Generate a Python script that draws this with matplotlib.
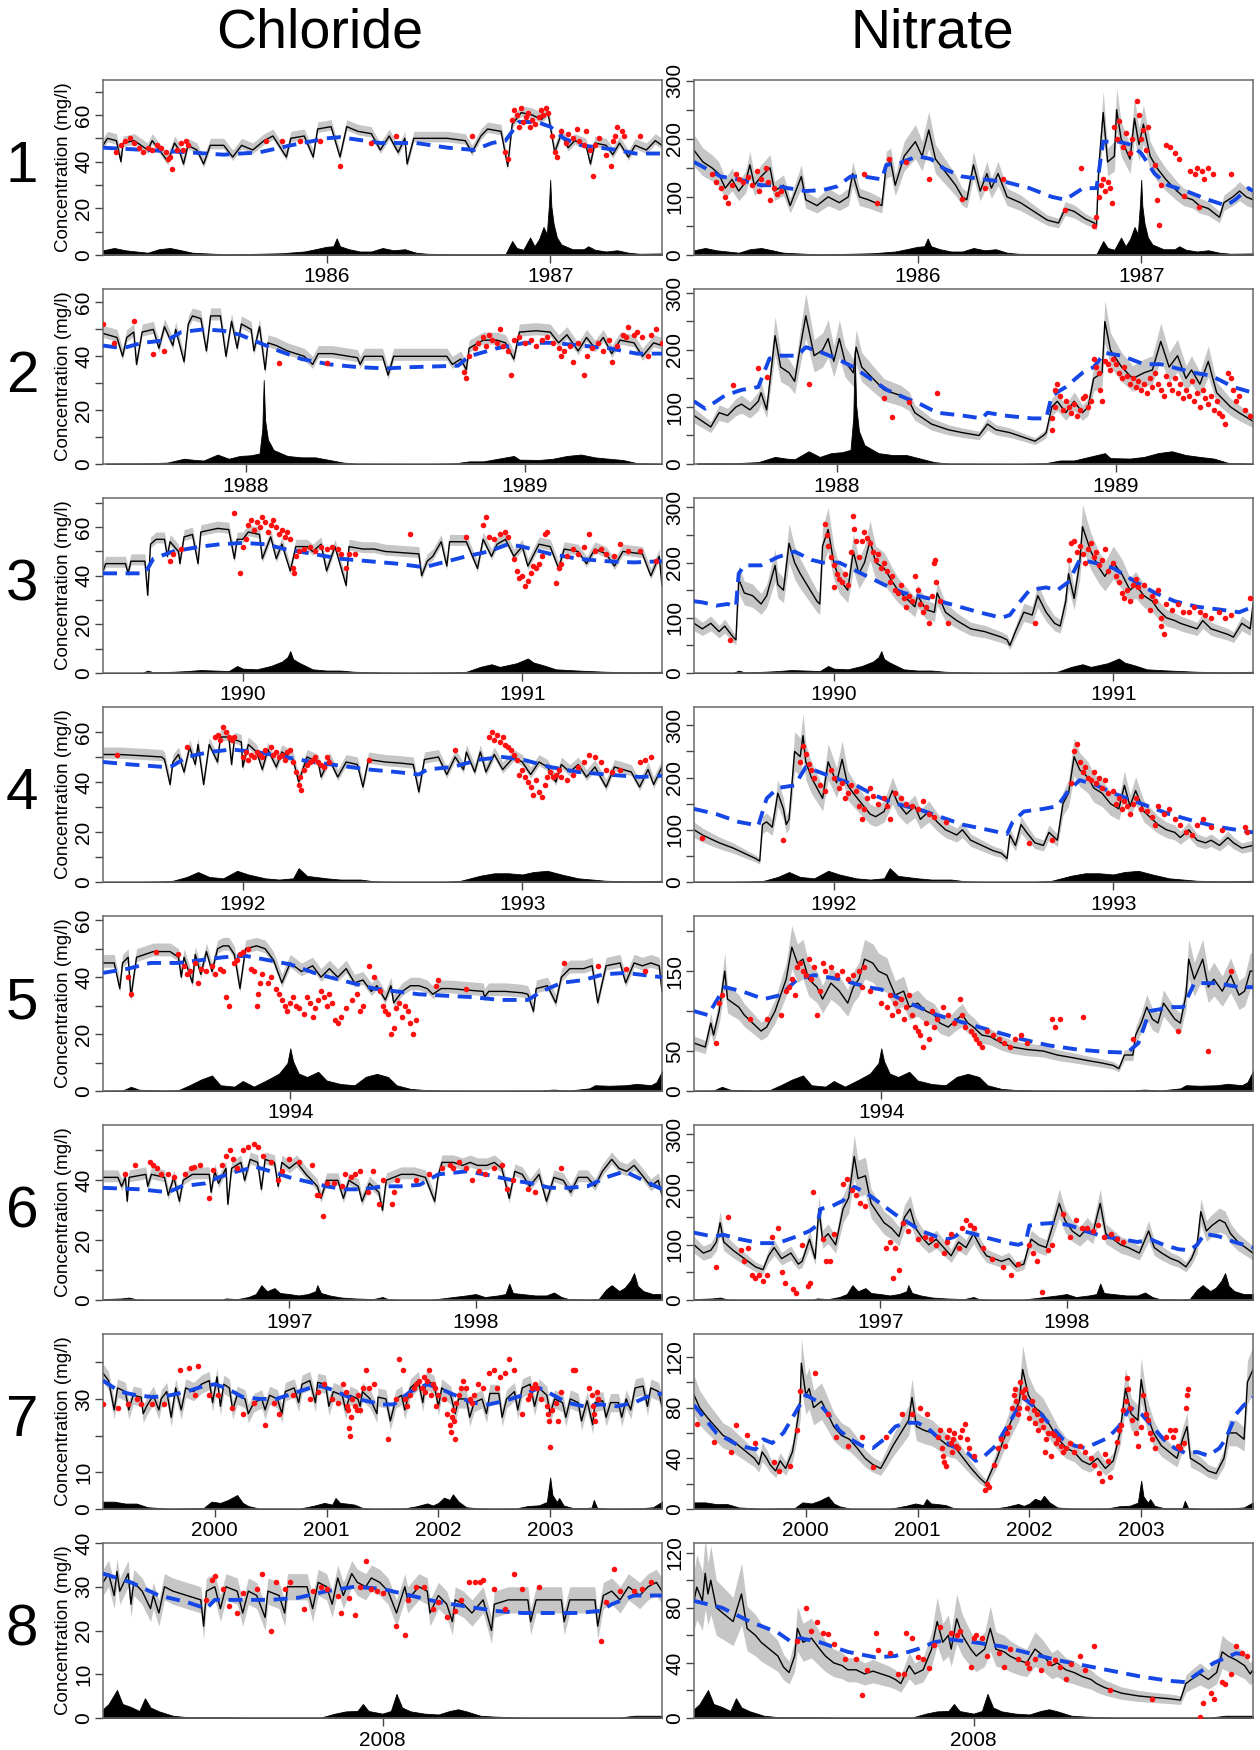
import numpy as np
import matplotlib
matplotlib.use("Agg")
import matplotlib.pyplot as plt

plt.rcParams['font.family'] = ['Liberation Sans', 'DejaVu Sans']

# ---------------- shared per-row axis data ----------------
row_xlim = [(1985.0, 1987.5), (1987.49, 1989.49), (1989.5, 1991.5), (1991.5, 1993.5),
            (1993.33, 1995.33), (1996.0, 1999.0), (1999.0, 2004.0), (2007.0, 2009.0)]
row_years = [[1986, 1987], [1988, 1989], [1990, 1991], [1992, 1993], [1994],
             [1997, 1998], [2000, 2001, 2002, 2003], [2008]]
row_numbers = ['1', '2', '3', '4', '5', '6', '7', '8']

cl_ytop = [75, 65, 72, 70, 61.5, 58.5, 47.7, 40]
cl_yticks = [[0, 10, 20, 30, 40, 50, 60, 70], [0, 10, 20, 30, 40, 50, 60], [0, 10, 20, 30, 40, 50, 60, 70],
             [0, 10, 20, 30, 40, 50, 60], [0, 10, 20, 30, 40, 50, 60], [0, 10, 20, 30, 40, 50],
             [0, 10, 20, 30, 40], [0, 10, 20, 30, 40]]
cl_ylabeled = [[0, 20, 40, 60], [0, 20, 40, 60], [0, 20, 40, 60], [0, 20, 40, 60], [0, 20, 40, 60],
               [0, 20, 40], [0, 10, 30], [0, 10, 20, 30, 40]]
no_ytop = [301, 307, 317, 335, 219, 317, 138, 127]
no_yticks = [[0, 50, 100, 150, 200, 250, 300], [0, 50, 100, 150, 200, 250, 300],
             [0, 50, 100, 150, 200, 250, 300], [0, 50, 100, 150, 200, 250, 300],
             [0, 50, 100, 150, 200], [0, 50, 100, 150, 200, 250, 300],
             [0, 20, 40, 60, 80, 100, 120], [0, 20, 40, 60, 80, 100, 120]]
no_ylabeled = [[0, 100, 200, 300]] * 4 + [[0, 50, 150], [0, 100, 200, 300], [0, 40, 80, 120], [0, 40, 80, 120]]

# band around the simulated line: chloride (below, above) in mg/l, nitrate relative half width
cl_band_below = [1.5, 1.5, 1.5, 1.5, 1.5, 1.5, 2.5, 3.0]
cl_band_above = [3.0, 3.0, 3.0, 3.0, 3.0, 2.5, 2.5, 3.0]
no_band_rel = [0.15, 0.15, 0.15, 0.15, 0.15, 0.15, 0.17, 0.25]

# ---------------- discharge (time, percent of panel height) ----------------
q1 = [(1985.00, 2.7), (1985.05, 4), (1985.10, 2.7), (1985.15, 2), (1985.20, 1.3), (1985.25, 3.3), (1985.30, 4),
      (1985.35, 2.7), (1985.40, 1.3), (1985.45, 1), (1985.50, 0.7), (1985.55, 0.4), (1985.70, 0.7), (1985.80, 1),
      (1985.90, 2), (1985.95, 3.3), (1986.00, 4.7), (1986.03, 5), (1986.045, 9.5), (1986.06, 5), (1986.10, 3.3),
      (1986.15, 2), (1986.20, 2), (1986.25, 4), (1986.30, 2.7), (1986.35, 3.3), (1986.40, 1.3), (1986.45, 0.7),
      (1986.60, 0.4), (1986.80, 0.5), (1986.81, 3), (1986.83, 8), (1986.85, 4), (1986.88, 3), (1986.91, 10),
      (1986.93, 5), (1986.95, 9), (1986.97, 16), (1986.985, 12), (1986.995, 30), (1987.0, 43), (1987.005, 28),
      (1987.015, 18), (1987.03, 10), (1987.05, 6), (1987.10, 3.3), (1987.15, 3.3), (1987.17, 5), (1987.20, 3),
      (1987.25, 2), (1987.30, 2.7), (1987.35, 1.3), (1987.40, 0.7), (1987.50, 0.9)]
q2 = [(1987.50, 0.3), (1987.65, 0.4), (1987.72, 0.8), (1987.78, 3), (1987.82, 2.3), (1987.85, 2), (1987.90, 5.4),
      (1987.94, 3), (1987.98, 4.6), (1988.02, 5), (1988.05, 6), (1988.06, 20), (1988.065, 48), (1988.07, 25),
      (1988.08, 14), (1988.10, 8), (1988.15, 4.6), (1988.20, 3.8), (1988.25, 3.8), (1988.30, 2.3), (1988.35, 0.8),
      (1988.40, 0.2), (1988.65, 0), (1988.75, 0.4), (1988.80, 1.5), (1988.85, 1.5), (1988.96, 4.6), (1988.98, 2.5),
      (1989.05, 2.3), (1989.10, 3), (1989.15, 4.6), (1989.20, 5.4), (1989.25, 3.8), (1989.30, 3), (1989.35, 2.3),
      (1989.40, 0.5), (1989.49, 0.2)]
q3 = [(1989.50, 0), (1989.64, 0), (1989.66, 1.4), (1989.68, 0.4), (1989.75, 0.7), (1989.80, 1.1), (1989.85, 1.7),
      (1989.90, 1.4), (1989.95, 1.1), (1989.98, 4), (1990.00, 2.5), (1990.05, 2.1), (1990.10, 4), (1990.14, 6.5),
      (1990.16, 9), (1990.17, 12.5), (1990.18, 8), (1990.20, 6), (1990.25, 2.1), (1990.30, 1.4), (1990.35, 1.4),
      (1990.40, 0.7), (1990.50, 0.3), (1990.60, 0.1), (1990.75, 0.4), (1990.80, 0.7), (1990.85, 3.5), (1990.89, 5),
      (1990.92, 3.5), (1990.98, 5.6), (1991.02, 8.3), (1991.04, 6), (1991.08, 4.2), (1991.12, 2.1), (1991.20, 1.4),
      (1991.30, 0.7), (1991.40, 0.4), (1991.50, 0.7)]
q4 = [(1991.50, 0), (1991.62, 0), (1991.70, 0.3), (1991.75, 0.7), (1991.80, 2.9), (1991.84, 5.7), (1991.88, 2.9),
      (1991.93, 2.1), (1991.98, 6.4), (1992.02, 4.3), (1992.08, 2.1), (1992.13, 1.4), (1992.18, 2.1), (1992.20, 7.9),
      (1992.23, 3.5), (1992.30, 2.1), (1992.35, 1.4), (1992.42, 1.4), (1992.47, 0.4), (1992.55, 0.1), (1992.72, 0.1),
      (1992.78, 0.7), (1992.85, 3.6), (1992.90, 5), (1992.95, 5), (1993.00, 4.3), (1993.04, 5.7), (1993.09, 6.4),
      (1993.14, 4.3), (1993.20, 2.1), (1993.25, 1.4), (1993.30, 0.7), (1993.40, 0.4), (1993.50, 0.7)]
q5 = [(1993.33, 0.2), (1993.40, 0.3), (1993.43, 2.4), (1993.46, 0.7), (1993.55, 0.3), (1993.60, 0.5), (1993.64, 3.3),
      (1993.68, 6.5), (1993.72, 8.9), (1993.75, 3.3), (1993.80, 2.5), (1993.83, 5.7), (1993.87, 2.5), (1993.92, 6.5),
      (1993.96, 10), (1993.99, 16), (1994.00, 24.4), (1994.01, 17), (1994.03, 10), (1994.06, 8), (1994.10, 11),
      (1994.13, 6), (1994.18, 4), (1994.23, 3.3), (1994.27, 8.1), (1994.31, 9.8), (1994.35, 8), (1994.38, 3.3),
      (1994.43, 1.2), (1994.48, 0.6), (1994.55, 0.3), (1994.70, 0.2), (1994.90, 0.3), (1994.94, 0.8), (1995.00, 0.3),
      (1995.07, 1.5), (1995.09, 3.3), (1995.14, 3), (1995.20, 3.3), (1995.24, 4.1), (1995.29, 3.3), (1995.31, 5),
      (1995.33, 11.4)]
q6 = [(1996.00, 0.5), (1996.10, 0.9), (1996.14, 1.4), (1996.18, 0.3), (1996.25, 0.2), (1996.64, 0.2), (1996.66, 0.9),
      (1996.72, 0.5), (1996.78, 1.7), (1996.82, 3.4), (1996.85, 8.5), (1996.88, 5), (1996.92, 6.8), (1996.95, 4),
      (1997.00, 3.4), (1997.05, 2.6), (1997.10, 3.4), (1997.14, 5), (1997.15, 8.5), (1997.17, 4), (1997.22, 2.5),
      (1997.28, 1.4), (1997.35, 0.9), (1997.45, 0.5), (1997.50, 1.7), (1997.53, 0.5), (1997.60, 0.2), (1997.76, 0.2),
      (1997.82, 0.9), (1997.88, 1.7), (1997.95, 2.6), (1998.00, 3.4), (1998.05, 1.7), (1998.12, 2.6), (1998.16, 3.4),
      (1998.18, 9.4), (1998.20, 4), (1998.25, 3.4), (1998.32, 2.6), (1998.38, 2.6), (1998.42, 4.3), (1998.46, 1.7),
      (1998.50, 0.5), (1998.60, 0.3), (1998.66, 0.5), (1998.70, 6), (1998.73, 8.5), (1998.77, 5.1), (1998.80, 7),
      (1998.83, 11), (1998.85, 15.4), (1998.87, 8), (1998.90, 5.1), (1998.95, 3.4), (1999.00, 3.4)]
q7 = [(1999.00, 4.2), (1999.10, 4.2), (1999.20, 3.1), (1999.30, 3.1), (1999.40, 1), (1999.50, 0.6), (1999.60, 0.2),
      (1999.90, 0.6), (1999.97, 4.2), (2000.05, 3.5), (2000.12, 5.2), (2000.20, 8), (2000.25, 3.5), (2000.30, 1.7),
      (2000.40, 0.2), (2000.75, 0.2), (2000.82, 1), (2000.90, 2.1), (2000.98, 3.5), (2001.05, 2.5), (2001.08, 6.3),
      (2001.12, 3.5), (2001.18, 3.1), (2001.25, 2.5), (2001.32, 0.6), (2001.40, 0.2), (2001.70, 0.4), (2001.80, 1.5),
      (2001.90, 3.2), (2001.95, 2), (2002.00, 3.5), (2002.05, 6.5), (2002.10, 5.2), (2002.13, 8.4), (2002.18, 4.2),
      (2002.25, 1), (2002.35, 0.4), (2002.50, 0.2), (2002.70, 0.4), (2002.80, 1.7), (2002.90, 2.1), (2002.97, 4),
      (2003.00, 18), (2003.02, 8), (2003.06, 4), (2003.08, 6.3), (2003.12, 2), (2003.20, 0.6), (2003.30, 0.5),
      (2003.37, 0.8), (2003.39, 5.2), (2003.42, 0.6), (2003.55, 0.2), (2003.80, 0.4), (2003.92, 1), (2004.00, 4.2)]
q8 = [(2007.00, 5), (2007.02, 8), (2007.05, 16), (2007.07, 8), (2007.10, 6.3), (2007.13, 4), (2007.15, 11.3),
      (2007.17, 6), (2007.20, 3.8), (2007.25, 1.3), (2007.30, 0.5), (2007.45, 0.5), (2007.50, 0.3), (2007.78, 0.3),
      (2007.83, 2.5), (2007.87, 3.8), (2007.91, 4), (2007.93, 8), (2007.95, 4), (2008.00, 2.5), (2008.03, 4),
      (2008.05, 13.8), (2008.07, 6), (2008.10, 3.8), (2008.15, 2.5), (2008.20, 2), (2008.24, 4), (2008.27, 5),
      (2008.30, 3.8), (2008.35, 1.3), (2008.40, 0.8), (2008.45, 0.5), (2008.50, 0.3), (2008.85, 0.3), (2008.90, 1.3),
      (2008.95, 1.3), (2009.00, 1.3)]
q_rows = [q1, q2, q3, q4, q5, q6, q7, q8]
q_gain_cl = [1, 1, 1, 1, 1, 1, 1, 1]
q_gain_no = [1, 1.35, 1, 1, 1, 1, 0.9, 1]

# ---------------- Chloride series ----------------
cl1_line = [(1985.00, 47), (1985.02, 50), (1985.06, 49), (1985.08, 40), (1985.09, 48), (1985.14, 49), (1985.20, 45),
            (1985.22, 49), (1985.26, 44), (1985.29, 40), (1985.32, 48), (1985.34, 45), (1985.36, 39), (1985.38, 47),
            (1985.42, 45), (1985.45, 39), (1985.48, 47), (1985.54, 47), (1985.58, 42), (1985.62, 47), (1985.67, 45),
            (1985.72, 49), (1985.76, 51), (1985.82, 42), (1985.84, 50), (1985.90, 51), (1985.94, 42), (1985.96, 54),
            (1986.02, 55), (1986.06, 42), (1986.09, 55), (1986.14, 53), (1986.20, 52), (1986.24, 45), (1986.28, 51),
            (1986.32, 44), (1986.35, 50), (1986.36, 39), (1986.39, 50), (1986.46, 50), (1986.54, 50), (1986.62, 49),
            (1986.65, 44), (1986.69, 51), (1986.72, 54), (1986.78, 53), (1986.81, 38), (1986.83, 56), (1986.87, 61),
            (1986.92, 60), (1986.96, 58), (1986.99, 61), (1987.02, 44), (1987.05, 52), (1987.08, 46), (1987.11, 49),
            (1987.16, 47), (1987.18, 39), (1987.20, 48), (1987.25, 47), (1987.28, 43), (1987.31, 48), (1987.35, 42),
            (1987.38, 47), (1987.43, 45), (1987.47, 49), (1987.50, 47)]
cl1_trend = [(1985.0, 46), (1985.38, 44), (1985.54, 43), (1985.70, 44), (1985.84, 47), (1986.0, 50), (1986.06, 50.5),
             (1986.24, 48), (1986.40, 48), (1986.54, 46), (1986.66, 45), (1986.74, 48), (1986.80, 49), (1986.86, 57),
             (1986.94, 57), (1987.0, 55), (1987.06, 50), (1987.14, 47), (1987.30, 45), (1987.38, 43.5), (1987.5, 43.5)]
cl1_obs = [(1985.06, 44), (1985.08, 47), (1985.10, 49), (1985.12, 50), (1985.14, 48), (1985.16, 46), (1985.18, 44),
           (1985.20, 46), (1985.22, 45), (1985.24, 47), (1985.26, 46), (1985.28, 44), (1985.29, 41), (1985.30, 42),
           (1985.31, 37), (1985.33, 45), (1985.35, 48), (1985.36, 45), (1985.37, 49), (1985.38, 47), (1985.73, 49),
           (1985.80, 49), (1985.88, 49), (1985.97, 49), (1986.06, 38), (1986.20, 48), (1986.31, 51), (1986.65, 51),
           (1986.80, 44), (1986.81, 41), (1986.83, 58), (1986.84, 62), (1986.85, 60), (1986.86, 55), (1986.87, 63),
           (1986.88, 57), (1986.89, 59), (1986.90, 61), (1986.91, 55), (1986.92, 58), (1986.93, 56), (1986.95, 59),
           (1986.96, 62), (1986.97, 60), (1986.98, 63), (1986.99, 61), (1987.01, 51), (1987.02, 44), (1987.03, 42),
           (1987.05, 53), (1987.07, 48), (1987.08, 52), (1987.10, 50), (1987.12, 54), (1987.13, 49), (1987.15, 47),
           (1987.16, 53), (1987.18, 45), (1987.19, 34), (1987.20, 47), (1987.22, 50), (1987.25, 43), (1987.27, 38),
           (1987.28, 49), (1987.29, 51), (1987.30, 55), (1987.32, 53), (1987.33, 51), (1987.40, 51)]

cl2_line = [(1987.49, 48.5), (1987.54, 47), (1987.56, 40), (1987.575, 47), (1987.60, 49), (1987.61, 37), (1987.63, 49),
            (1987.67, 50), (1987.69, 43), (1987.71, 51), (1987.74, 44), (1987.75, 50), (1987.78, 38), (1987.795, 52),
            (1987.81, 55), (1987.84, 54), (1987.86, 42), (1987.875, 55), (1987.91, 55), (1987.93, 40), (1987.95, 53),
            (1987.97, 43), (1987.985, 52), (1988.02, 50), (1988.03, 42), (1988.05, 51), (1988.07, 35), (1988.08, 45),
            (1988.11, 44), (1988.15, 42), (1988.18, 41), (1988.21, 40), (1988.24, 37), (1988.26, 41), (1988.31, 41),
            (1988.37, 40), (1988.40, 39.5), (1988.41, 37), (1988.425, 40), (1988.49, 40), (1988.51, 33), (1988.53, 40),
            (1988.64, 40), (1988.72, 40), (1988.74, 37), (1988.77, 39), (1988.79, 35), (1988.80, 43), (1988.85, 46),
            (1988.90, 46), (1988.93, 45), (1988.96, 39), (1988.98, 49), (1989.04, 49.5), (1989.09, 49), (1989.12, 45),
            (1989.15, 48), (1989.19, 42), (1989.22, 47), (1989.25, 43), (1989.28, 47), (1989.31, 41), (1989.34, 46),
            (1989.39, 45), (1989.42, 40), (1989.46, 45), (1989.49, 44)]
cl2_trend = [(1987.49, 44), (1987.56, 43), (1987.63, 45), (1987.72, 46), (1987.77, 49), (1987.85, 50), (1987.92, 49.5),
             (1987.98, 48), (1988.05, 45), (1988.12, 42), (1988.2, 39), (1988.3, 37), (1988.4, 36), (1988.5, 35.5),
             (1988.6, 36), (1988.76, 36.5), (1988.8, 40), (1988.9, 43), (1989.0, 45), (1989.1, 45), (1989.2, 44),
             (1989.3, 43), (1989.4, 41), (1989.49, 41)]
cl2_obs = [(1987.49, 52), (1987.53, 45), (1987.60, 53), (1987.67, 41), (1987.71, 42), (1988.12, 37.5), (1988.29, 37.5),
           (1988.78, 34), (1988.79, 32), (1988.80, 40), (1988.82, 43), (1988.83, 45), (1988.85, 47), (1988.86, 44),
           (1988.87, 48), (1988.88, 46), (1988.90, 45), (1988.91, 50), (1988.92, 44), (1988.94, 42), (1988.95, 33),
           (1988.96, 46), (1988.98, 47), (1989.00, 45), (1989.02, 46), (1989.04, 44), (1989.06, 46), (1989.08, 47),
           (1989.10, 45), (1989.12, 43), (1989.13, 40), (1989.14, 42), (1989.16, 44), (1989.17, 38), (1989.19, 45),
           (1989.21, 33), (1989.22, 40), (1989.24, 43), (1989.26, 45), (1989.28, 42), (1989.30, 46), (1989.31, 38),
           (1989.33, 44), (1989.35, 48), (1989.36, 47), (1989.37, 51), (1989.39, 48), (1989.40, 49), (1989.42, 47),
           (1989.44, 40), (1989.45, 48), (1989.47, 50), (1989.49, 45)]

cl3_line = [(1989.50, 42), (1989.51, 45), (1989.58, 45), (1989.59, 41), (1989.60, 46), (1989.65, 46), (1989.66, 32),
            (1989.67, 53), (1989.69, 55), (1989.72, 55), (1989.73, 48), (1989.74, 54), (1989.77, 50), (1989.775, 45),
            (1989.79, 56), (1989.82, 57), (1989.84, 45), (1989.85, 58), (1989.91, 59.5), (1989.95, 59), (1989.97, 47),
            (1989.98, 55), (1990.00, 55), (1990.02, 58), (1990.06, 57), (1990.07, 47), (1990.10, 56), (1990.12, 47),
            (1990.14, 53), (1990.17, 42), (1990.19, 52), (1990.23, 52), (1990.25, 50), (1990.28, 53), (1990.30, 42),
            (1990.33, 52), (1990.37, 36), (1990.38, 52), (1990.43, 51), (1990.47, 51), (1990.51, 50), (1990.57, 49.5),
            (1990.63, 49), (1990.64, 40), (1990.66, 46), (1990.68, 48), (1990.71, 54), (1990.73, 44), (1990.74, 54),
            (1990.80, 54), (1990.84, 43), (1990.86, 55), (1990.89, 48), (1990.91, 53), (1990.94, 55), (1990.97, 48),
            (1991.00, 52), (1991.02, 44), (1991.06, 53), (1991.10, 52), (1991.13, 43), (1991.15, 51), (1991.20, 50),
            (1991.23, 45), (1991.26, 51), (1991.30, 49), (1991.33, 44), (1991.36, 50), (1991.43, 49), (1991.46, 40),
            (1991.49, 48), (1991.50, 36)]
cl3_trend = [(1989.5, 41), (1989.65, 41), (1989.68, 47), (1989.75, 50), (1989.85, 52), (1989.92, 53), (1990.0, 53.5),
             (1990.08, 53), (1990.15, 51), (1990.25, 49), (1990.35, 47), (1990.45, 46), (1990.55, 45), (1990.65, 43.5),
             (1990.7, 45), (1990.8, 48), (1990.88, 50), (1990.95, 53), (1991.0, 52), (1991.1, 49), (1991.2, 47),
             (1991.3, 46), (1991.4, 45.5), (1991.5, 46)]
cl3_obs = [(1989.74, 46), (1989.75, 49), (1989.78, 51), (1989.97, 66), (1989.99, 41), (1990.0, 52), (1990.01, 55),
           (1990.02, 61), (1990.03, 63), (1990.04, 59), (1990.05, 62), (1990.06, 60), (1990.07, 64), (1990.08, 62),
           (1990.09, 58), (1990.10, 61), (1990.11, 63), (1990.12, 60), (1990.13, 57), (1990.14, 59), (1990.15, 56),
           (1990.16, 58), (1990.17, 55), (1990.18, 43), (1990.185, 41), (1990.19, 48), (1990.2, 50), (1990.22, 51),
           (1990.24, 52), (1990.26, 50), (1990.28, 52), (1990.30, 51), (1990.32, 52), (1990.34, 51), (1990.35, 49),
           (1990.37, 43), (1990.38, 49), (1990.40, 49), (1990.60, 57), (1990.80, 56), (1990.86, 61), (1990.87, 64),
           (1990.88, 56), (1990.9, 55), (1990.92, 57), (1990.94, 58), (1990.95, 56), (1990.97, 47), (1990.98, 42),
           (1990.99, 39), (1991.0, 40), (1991.01, 36), (1991.02, 38), (1991.03, 41), (1991.04, 44), (1991.05, 43),
           (1991.06, 45), (1991.07, 48), (1991.08, 57), (1991.09, 58), (1991.12, 37), (1991.13, 43), (1991.14, 45),
           (1991.16, 48), (1991.18, 51), (1991.20, 49), (1991.22, 52), (1991.24, 57), (1991.26, 50), (1991.28, 51),
           (1991.30, 49), (1991.33, 48), (1991.35, 53), (1991.38, 50), (1991.42, 50), (1991.48, 46)]

cl4_line = [(1991.50, 51), (1991.56, 51), (1991.64, 50.5), (1991.71, 50), (1991.72, 49), (1991.74, 39), (1991.75, 48),
            (1991.77, 51), (1991.79, 44), (1991.81, 54), (1991.83, 47), (1991.84, 55), (1991.86, 39), (1991.88, 55),
            (1991.91, 48), (1991.92, 58), (1991.95, 58), (1991.96, 47), (1991.97, 57), (1991.995, 56), (1992.00, 46),
            (1992.02, 55), (1992.05, 52), (1992.07, 45), (1992.09, 53), (1992.12, 46), (1992.14, 52), (1992.18, 49),
            (1992.20, 40), (1992.23, 50), (1992.27, 48), (1992.28, 42), (1992.31, 49), (1992.34, 42), (1992.37, 48),
            (1992.41, 47), (1992.43, 38), (1992.45, 49), (1992.51, 48), (1992.57, 47.5), (1992.61, 47), (1992.63, 36),
            (1992.65, 49), (1992.70, 50), (1992.73, 43), (1992.76, 50), (1992.79, 45), (1992.80, 52), (1992.83, 44),
            (1992.85, 52), (1992.87, 44), (1992.90, 51), (1992.93, 45), (1992.97, 50), (1993.00, 48), (1993.03, 43),
            (1993.06, 48), (1993.09, 46), (1993.12, 40), (1993.14, 47), (1993.17, 44), (1993.20, 47), (1993.23, 42),
            (1993.26, 46), (1993.30, 38), (1993.33, 46), (1993.39, 44), (1993.42, 38), (1993.45, 45), (1993.47, 39),
            (1993.50, 46)]
cl4_trend = [(1991.5, 48), (1991.6, 47), (1991.72, 46), (1991.75, 46.5), (1991.8, 50), (1991.88, 52), (1991.96, 53),
             (1992.05, 52), (1992.15, 50), (1992.25, 48), (1992.35, 46.5), (1992.45, 45), (1992.55, 44), (1992.63, 43),
             (1992.66, 45), (1992.75, 46), (1992.85, 49), (1992.93, 50), (1993.0, 49), (1993.1, 46), (1993.2, 44),
             (1993.3, 43), (1993.42, 42), (1993.5, 42.5)]
cl4_obs = [(1991.55, 51), (1991.80, 54), (1991.9, 58), (1991.91, 59), (1991.92, 57), (1991.93, 62), (1991.94, 60),
           (1991.95, 58), (1991.96, 57), (1991.97, 58), (1992.0, 50), (1992.01, 52), (1992.02, 49), (1992.03, 51),
           (1992.04, 50), (1992.05, 52), (1992.06, 51), (1992.07, 50), (1992.08, 53), (1992.1, 54), (1992.11, 51),
           (1992.12, 52), (1992.13, 50), (1992.14, 51), (1992.15, 49), (1992.16, 52), (1992.17, 53), (1992.18, 48),
           (1992.19, 44), (1992.20, 39), (1992.205, 42), (1992.21, 37), (1992.22, 45), (1992.23, 47), (1992.24, 48),
           (1992.25, 49), (1992.26, 50), (1992.27, 48), (1992.28, 47), (1992.29, 46), (1992.30, 50), (1992.31, 48),
           (1992.45, 49), (1992.76, 53), (1992.88, 58), (1992.89, 60), (1992.90, 57), (1992.91, 59), (1992.92, 56),
           (1992.93, 58), (1992.94, 55), (1992.95, 54), (1992.96, 53), (1992.97, 51), (1992.98, 49), (1992.99, 43),
           (1993.0, 45), (1993.01, 42), (1993.02, 40), (1993.03, 38), (1993.04, 35), (1993.05, 41), (1993.06, 36),
           (1993.07, 34), (1993.08, 39), (1993.09, 42), (1993.10, 44), (1993.11, 42), (1993.12, 43), (1993.13, 45),
           (1993.14, 42), (1993.16, 41), (1993.18, 43), (1993.20, 46), (1993.22, 48), (1993.24, 51), (1993.26, 50),
           (1993.28, 48), (1993.30, 45), (1993.32, 44), (1993.35, 45), (1993.42, 48), (1993.44, 49), (1993.46, 50)]

cl5_line = [(1993.33, 45), (1993.37, 45), (1993.39, 36), (1993.40, 45), (1993.42, 47), (1993.43, 33), (1993.45, 47),
            (1993.51, 49), (1993.57, 49), (1993.60, 47), (1993.61, 40), (1993.62, 47), (1993.65, 38), (1993.66, 48),
            (1993.68, 41), (1993.70, 49), (1993.72, 42), (1993.74, 50), (1993.76, 51), (1993.78, 51), (1993.80, 48),
            (1993.82, 36), (1993.84, 50), (1993.88, 51), (1993.91, 50), (1993.94, 46), (1993.97, 38), (1994.00, 45),
            (1994.04, 42), (1994.08, 44), (1994.11, 40), (1994.14, 43), (1994.17, 40), (1994.20, 43), (1994.23, 38),
            (1994.26, 39), (1994.29, 35), (1994.31, 37), (1994.34, 32), (1994.36, 37), (1994.37, 31), (1994.40, 35),
            (1994.43, 37), (1994.46, 37), (1994.49, 36), (1994.51, 34), (1994.54, 36), (1994.57, 36), (1994.63, 35.5),
            (1994.69, 35), (1994.695, 33), (1994.71, 35), (1994.77, 35), (1994.83, 34.5), (1994.85, 34), (1994.87, 28),
            (1994.88, 36), (1994.92, 37), (1994.95, 31), (1994.97, 40), (1995.00, 43), (1995.05, 43), (1995.08, 44),
            (1995.10, 31), (1995.13, 44), (1995.18, 45), (1995.20, 38), (1995.23, 45), (1995.26, 44), (1995.29, 45),
            (1995.32, 44), (1995.33, 35)]
cl5_trend = [(1993.33, 41.5), (1993.42, 43), (1993.5, 45), (1993.6, 45), (1993.68, 46), (1993.76, 47), (1993.84, 47.5),
             (1993.92, 46), (1994.0, 44.5), (1994.1, 41), (1994.2, 38.5), (1994.3, 36), (1994.38, 35), (1994.46, 34),
             (1994.55, 33.5), (1994.65, 33), (1994.75, 32), (1994.85, 32), (1994.9, 35), (1994.97, 38), (1995.05, 39),
             (1995.12, 41), (1995.2, 41.5), (1995.33, 40)]
cl5_obs = [(1993.42, 40), (1993.43, 34), (1993.52, 49), (1993.6, 48), (1993.62, 44), (1993.63, 41), (1993.64, 42),
           (1993.66, 45), (1993.67, 38), (1993.68, 43), (1993.7, 42), (1993.72, 44), (1993.73, 41), (1993.75, 43),
           (1993.76, 42), (1993.77, 33), (1993.78, 30), (1993.8, 45), (1993.81, 46), (1993.82, 48), (1993.83, 49),
           (1993.85, 50), (1993.86, 43), (1993.87, 42), (1993.88, 30), (1993.885, 34), (1993.89, 38), (1993.9, 41),
           (1993.92, 38), (1993.93, 40), (1993.95, 36), (1993.96, 34), (1993.97, 32), (1993.98, 30), (1993.99, 28),
           (1994.0, 31), (1994.01, 33), (1994.02, 30), (1994.03, 29), (1994.05, 27), (1994.06, 33), (1994.07, 31),
           (1994.08, 26), (1994.09, 29), (1994.10, 32), (1994.11, 35), (1994.12, 33), (1994.13, 30), (1994.14, 34),
           (1994.15, 31), (1994.16, 25), (1994.17, 24), (1994.18, 26), (1994.2, 29), (1994.22, 32), (1994.24, 34),
           (1994.25, 28), (1994.26, 30), (1994.28, 44), (1994.30, 40), (1994.32, 35), (1994.33, 30), (1994.34, 28),
           (1994.35, 27), (1994.36, 20), (1994.37, 22), (1994.38, 29), (1994.39, 31), (1994.40, 26), (1994.41, 30),
           (1994.42, 28), (1994.43, 24), (1994.44, 20), (1994.45, 25), (1994.52, 37), (1994.53, 39), (1994.63, 36),
           (1994.98, 45), (1995.10, 44), (1995.20, 43), (1995.27, 42)]

cl6_line = [(1996.00, 41), (1996.08, 41), (1996.10, 38), (1996.12, 41), (1996.13, 33), (1996.14, 41), (1996.23, 42),
            (1996.24, 38), (1996.26, 42), (1996.33, 41), (1996.35, 35), (1996.38, 41), (1996.41, 33), (1996.43, 40),
            (1996.48, 42), (1996.57, 42), (1996.58, 36), (1996.60, 43), (1996.62, 39), (1996.66, 44), (1996.67, 32),
            (1996.69, 44), (1996.74, 46), (1996.76, 40), (1996.79, 47), (1996.83, 46), (1996.85, 37), (1996.87, 47),
            (1996.92, 46), (1996.94, 38), (1996.96, 46), (1997.00, 44), (1997.04, 46), (1997.09, 42), (1997.15, 38),
            (1997.17, 34), (1997.20, 40), (1997.26, 40), (1997.29, 34), (1997.32, 40), (1997.37, 38), (1997.39, 33),
            (1997.43, 39), (1997.48, 36), (1997.50, 30), (1997.52, 40), (1997.56, 41), (1997.60, 42), (1997.67, 42),
            (1997.73, 41), (1997.78, 33), (1997.80, 42), (1997.82, 46), (1997.88, 46), (1997.93, 45), (1997.97, 46),
            (1998.01, 45), (1998.06, 45), (1998.10, 46), (1998.14, 44), (1998.18, 34), (1998.21, 43), (1998.25, 42),
            (1998.29, 38), (1998.34, 42), (1998.38, 33), (1998.42, 41), (1998.47, 40), (1998.51, 36), (1998.55, 41),
            (1998.60, 41), (1998.64, 38), (1998.68, 43), (1998.73, 47), (1998.77, 44), (1998.81, 43), (1998.85, 45),
            (1998.89, 42), (1998.94, 38), (1998.98, 40), (1999.00, 35)]
cl6_trend = [(1996.0, 37.5), (1996.2, 37), (1996.35, 36), (1996.42, 38), (1996.55, 39), (1996.62, 41), (1996.72, 43),
             (1996.82, 44.5), (1996.9, 43), (1997.0, 41), (1997.1, 39.5), (1997.2, 38), (1997.3, 37), (1997.4, 37),
             (1997.5, 38), (1997.6, 38), (1997.7, 38.5), (1997.8, 42), (1997.95, 43), (1998.05, 42), (1998.2, 40),
             (1998.3, 39), (1998.4, 37.5), (1998.5, 37.5), (1998.6, 38), (1998.7, 41), (1998.8, 43), (1998.9, 40),
             (1999.0, 37)]
cl6_obs = [(1996.12, 42), (1996.17, 45), (1996.25, 46), (1996.27, 45), (1996.29, 44), (1996.31, 42), (1996.35, 42),
           (1996.38, 41), (1996.44, 42), (1996.47, 44), (1996.49, 44.5), (1996.52, 45), (1996.57, 34), (1996.59, 43.5),
           (1996.64, 45), (1996.66, 48), (1996.68, 50), (1996.70, 47), (1996.72, 44), (1996.75, 50), (1996.78, 51),
           (1996.81, 52), (1996.83, 51), (1996.86, 48), (1996.90, 46), (1996.94, 40), (1996.96, 43), (1997.00, 47),
           (1997.05, 46), (1997.12, 45), (1997.15, 35), (1997.16, 35), (1997.18, 28), (1997.20, 39), (1997.24, 39),
           (1997.28, 38), (1997.30, 42), (1997.33, 41), (1997.35, 42), (1997.38, 43), (1997.42, 36), (1997.45, 43),
           (1997.48, 32), (1997.50, 40), (1997.55, 32), (1997.56, 36), (1997.58, 40), (1997.68, 40), (1997.75, 42),
           (1997.82, 44), (1997.86, 45), (1997.88, 44), (1997.91, 46), (1997.95, 44), (1997.98, 40), (1998.02, 43),
           (1998.05, 42), (1998.10, 44), (1998.14, 45), (1998.17, 37), (1998.20, 40), (1998.28, 37), (1998.32, 36),
           (1998.46, 44)]

cl7_line = [(1999.00, 37), (1999.05, 35), (1999.10, 27), (1999.13, 33), (1999.20, 32), (1999.23, 27), (1999.27, 31),
            (1999.34, 30.5), (1999.36, 26), (1999.39, 28), (1999.45, 31), (1999.50, 27), (1999.52, 30), (1999.57, 32),
            (1999.61, 25), (1999.65, 33), (1999.70, 27), (1999.74, 33), (1999.81, 32), (1999.88, 34), (1999.95, 35),
            (1999.98, 29), (2000.02, 36), (2000.05, 28), (2000.08, 34), (2000.13, 33), (2000.16, 27), (2000.20, 31),
            (2000.27, 30), (2000.30, 26), (2000.35, 29), (2000.42, 30), (2000.45, 27), (2000.49, 31), (2000.56, 30),
            (2000.60, 26), (2000.63, 32), (2000.71, 33), (2000.75, 29), (2000.78, 34), (2000.85, 35), (2000.90, 29),
            (2000.92, 34.5), (2000.99, 34), (2001.02, 28), (2001.06, 32), (2001.14, 31), (2001.17, 27), (2001.21, 31),
            (2001.28, 30), (2001.30, 28), (2001.32, 32), (2001.39, 30), (2001.45, 26), (2001.46, 30.5), (2001.53, 30),
            (2001.57, 24), (2001.62, 30), (2001.67, 31), (2001.70, 27), (2001.75, 33), (2001.82, 35), (2001.86, 29),
            (2001.89, 35), (2001.96, 34), (2002.00, 28), (2002.03, 33), (2002.11, 31), (2002.15, 26), (2002.18, 30),
            (2002.25, 30), (2002.28, 25), (2002.32, 29), (2002.39, 30), (2002.43, 26), (2002.46, 31.5), (2002.54, 31.5),
            (2002.57, 25), (2002.61, 30), (2002.68, 32), (2002.71, 27), (2002.75, 33), (2002.82, 34), (2002.86, 28),
            (2002.90, 33), (2002.97, 31), (2003.00, 26), (2003.04, 30), (2003.11, 29), (2003.14, 25), (2003.18, 30),
            (2003.25, 29), (2003.28, 24), (2003.33, 29.5), (2003.38, 23), (2003.40, 29), (2003.47, 29.5), (2003.50, 25),
            (2003.54, 29), (2003.61, 29), (2003.64, 25), (2003.68, 30), (2003.72, 27), (2003.76, 33), (2003.83, 33.5),
            (2003.87, 28), (2003.90, 33), (2003.97, 32), (2004.00, 28)]
cl7_trend = [(1999.0, 35), (1999.15, 32), (1999.3, 31), (1999.45, 30.5), (1999.6, 31), (1999.75, 32), (1999.9, 33.5),
             (2000.0, 34), (2000.1, 33), (2000.25, 30.5), (2000.4, 30), (2000.55, 30), (2000.7, 31.5), (2000.85, 33),
             (2000.95, 33.5), (2001.05, 32.5), (2001.2, 30.5), (2001.35, 29.5), (2001.5, 28.5), (2001.6, 28.5),
             (2001.75, 32), (2001.9, 34), (2002.0, 33), (2002.15, 31), (2002.3, 29), (2002.45, 28.5), (2002.6, 29.5),
             (2002.75, 31), (2002.9, 33), (2003.0, 31.5), (2003.15, 29), (2003.3, 28), (2003.45, 28.5), (2003.6, 28),
             (2003.75, 29), (2003.9, 31), (2004.0, 31.5)]
cl7_obs = [(1999.00, 28.5), (1999.13, 27.5), (1999.22, 28.5), (1999.30, 30), (1999.34, 28.5), (1999.44, 28.5),
           (1999.55, 28.5), (1999.69, 38), (1999.77, 38.5), (1999.85, 39), (1999.82, 31), (1999.95, 31), (2000.03, 31),
           (2000.15, 27.5), (2000.25, 26), (2000.35, 29), (2000.45, 23), (2000.53, 29), (2000.57, 26), (2000.70, 31),
           (2000.85, 30), (2000.92, 32), (2000.98, 34), (2001.05, 30), (2001.10, 29), (2001.15, 34), (2001.17, 32),
           (2001.18, 28), (2001.19, 27), (2001.20, 22), (2001.21, 20), (2001.22, 25), (2001.23, 30), (2001.25, 28),
           (2001.27, 27), (2001.28, 31), (2001.30, 27), (2001.33, 33), (2001.35, 38), (2001.38, 33), (2001.42, 34),
           (2001.55, 19), (2001.62, 30), (2001.65, 41), (2001.68, 38), (2001.70, 30), (2001.72, 28), (2001.75, 31),
           (2001.78, 33), (2001.80, 34), (2001.83, 35), (2001.85, 33), (2001.87, 36), (2001.88, 32), (2001.90, 35),
           (2001.92, 38), (2001.93, 31), (2001.95, 34), (2001.97, 33), (2001.98, 28), (2002.00, 31), (2002.05, 30),
           (2002.08, 26), (2002.10, 23), (2002.11, 21), (2002.12, 25), (2002.13, 27), (2002.14, 24), (2002.15, 19),
           (2002.16, 29), (2002.18, 31), (2002.20, 33), (2002.22, 35), (2002.25, 33), (2002.28, 30), (2002.30, 29),
           (2002.32, 31), (2002.35, 34), (2002.40, 33), (2002.45, 37), (2002.50, 38), (2002.52, 33), (2002.55, 36),
           (2002.60, 37), (2002.63, 41), (2002.68, 38), (2002.75, 26), (2002.80, 30), (2002.82, 31), (2002.84, 33),
           (2002.86, 34), (2002.88, 33), (2002.92, 30), (2002.97, 28), (2002.98, 26), (2002.99, 24), (2003.00, 17),
           (2003.02, 27), (2003.05, 29), (2003.07, 24), (2003.10, 32), (2003.20, 38), (2003.22, 38), (2003.35, 33),
           (2003.37, 31), (2003.38, 28), (2003.39, 26), (2003.40, 24), (2003.42, 32), (2003.43, 30)]

cl8_line = [(2007.00, 31), (2007.02, 33), (2007.04, 28), (2007.05, 33.5), (2007.06, 29), (2007.09, 33), (2007.10, 26),
            (2007.11, 31), (2007.14, 29), (2007.17, 25), (2007.18, 28), (2007.20, 24), (2007.22, 30), (2007.25, 29),
            (2007.30, 28), (2007.35, 27), (2007.36, 21), (2007.37, 29), (2007.40, 30), (2007.42, 25), (2007.44, 30),
            (2007.48, 29), (2007.50, 24), (2007.52, 29), (2007.55, 28), (2007.58, 23), (2007.59, 29), (2007.63, 28),
            (2007.65, 24), (2007.66, 30), (2007.73, 30), (2007.75, 25), (2007.77, 31), (2007.80, 30), (2007.82, 26),
            (2007.84, 32), (2007.86, 28), (2007.89, 33), (2007.91, 31), (2007.94, 30), (2007.96, 32), (2007.99, 31),
            (2008.02, 29), (2008.05, 24), (2008.08, 30), (2008.09, 27), (2008.13, 30), (2008.16, 29), (2008.17, 24),
            (2008.20, 28), (2008.23, 26), (2008.25, 22), (2008.26, 27), (2008.29, 26), (2008.32, 24), (2008.36, 27),
            (2008.39, 20), (2008.40, 26), (2008.45, 27), (2008.52, 27), (2008.53, 22), (2008.55, 27), (2008.64, 27),
            (2008.65, 22), (2008.67, 27), (2008.76, 27), (2008.77, 21), (2008.79, 28), (2008.82, 29), (2008.85, 27),
            (2008.88, 30), (2008.92, 28), (2008.95, 30), (2008.98, 31), (2009.00, 29)]
cl8_trend = [(2007.0, 33), (2007.1, 31), (2007.2, 28), (2007.3, 26.5), (2007.37, 25), (2007.4, 27), (2007.5, 27),
             (2007.6, 27), (2007.7, 27.5), (2007.8, 29), (2007.9, 30), (2008.0, 29.5), (2008.1, 28), (2008.2, 26.5),
             (2008.3, 25.5), (2008.4, 24.5), (2008.5, 24), (2008.6, 24), (2008.7, 24), (2008.78, 24.5), (2008.82, 26),
             (2008.9, 28), (2009.0, 28)]
cl8_obs = [(2007.37, 27), (2007.39, 31.5), (2007.40, 32.5), (2007.43, 29.5), (2007.45, 25.5), (2007.48, 24),
           (2007.50, 28.5), (2007.55, 29.5), (2007.57, 33), (2007.60, 20), (2007.62, 31), (2007.65, 29.5), (2007.67, 31),
           (2007.72, 25), (2007.75, 29), (2007.78, 30), (2007.80, 29.5), (2007.84, 28), (2007.85, 24), (2007.88, 27.5),
           (2007.90, 23.5), (2007.92, 30), (2007.94, 36), (2007.96, 29.5), (2007.98, 29), (2008.00, 28.5), (2008.05, 21),
           (2008.08, 19), (2008.09, 27), (2008.12, 30), (2008.15, 30), (2008.18, 25), (2008.20, 26.5), (2008.23, 23),
           (2008.26, 24.5), (2008.28, 27), (2008.31, 31), (2008.33, 31), (2008.35, 31), (2008.36, 31.5), (2008.40, 29.5),
           (2008.44, 25), (2008.47, 33), (2008.50, 29.5), (2008.56, 30), (2008.78, 17.5), (2008.80, 26.5), (2008.83, 34),
           (2008.85, 29), (2008.90, 29), (2008.93, 29.5), (2008.96, 31)]

# ---------------- Nitrate series ----------------
no1_line = [(1985.00, 180), (1985.04, 160), (1985.08, 150), (1985.11, 140), (1985.14, 115), (1985.17, 130), (1985.20, 110),
            (1985.23, 125), (1985.25, 155), (1985.27, 120), (1985.30, 135), (1985.34, 150), (1985.36, 110), (1985.40, 120),
            (1985.43, 85), (1985.48, 135), (1985.50, 95), (1985.55, 85), (1985.60, 100), (1985.65, 90), (1985.69, 100),
            (1985.71, 140), (1985.74, 100), (1985.78, 95), (1985.84, 85), (1985.86, 155), (1985.88, 160), (1985.90, 120),
            (1985.94, 170), (1985.99, 195), (1986.02, 170), (1986.05, 215), (1986.08, 165), (1986.13, 140), (1986.17, 120),
            (1986.20, 100), (1986.22, 95), (1986.25, 155), (1986.28, 110), (1986.31, 140), (1986.33, 115), (1986.36, 140),
            (1986.40, 100), (1986.46, 90), (1986.52, 75), (1986.58, 60), (1986.63, 55), (1986.66, 80), (1986.70, 75),
            (1986.75, 62), (1986.79, 55), (1986.80, 50), (1986.81, 150), (1986.83, 245), (1986.85, 160), (1986.88, 170),
            (1986.89, 250), (1986.91, 200), (1986.95, 165), (1986.97, 235), (1986.99, 190), (1987.01, 225), (1987.04, 170),
            (1987.07, 150), (1987.11, 130), (1987.16, 110), (1987.19, 100), (1987.23, 95), (1987.26, 85), (1987.30, 80),
            (1987.35, 65), (1987.37, 90), (1987.41, 100), (1987.44, 110), (1987.47, 100), (1987.50, 95)]
no1_trend = [(1985.0, 160), (1985.12, 135), (1985.2, 130), (1985.3, 120), (1985.35, 120), (1985.42, 115), (1985.5, 110),
             (1985.58, 112), (1985.64, 118), (1985.7, 135), (1985.76, 135), (1985.84, 130), (1985.86, 155), (1985.92, 158),
             (1986.0, 170), (1986.06, 165), (1986.12, 148), (1986.2, 135), (1986.3, 130), (1986.4, 125), (1986.5, 115),
             (1986.6, 100), (1986.66, 95), (1986.7, 105), (1986.74, 115), (1986.8, 115), (1986.83, 195), (1986.9, 195),
             (1986.95, 190), (1987.0, 175), (1987.06, 140), (1987.12, 120), (1987.2, 110), (1987.3, 95), (1987.38, 85),
             (1987.42, 95), (1987.48, 115), (1987.5, 110)]
no1_obs = [(1985.08, 140), (1985.10, 125), (1985.12, 115), (1985.14, 100), (1985.15, 90), (1985.17, 120), (1985.19, 140),
           (1985.20, 130), (1985.22, 125), (1985.24, 135), (1985.26, 120), (1985.28, 145), (1985.29, 110), (1985.30, 130),
           (1985.32, 150), (1985.33, 125), (1985.34, 95), (1985.36, 115), (1985.37, 105), (1985.39, 110), (1985.76, 140),
           (1985.82, 90), (1985.87, 165), (1985.95, 160), (1986.05, 130), (1986.20, 97), (1986.30, 115), (1986.38, 130),
           (1986.66, 78), (1986.73, 150), (1986.79, 50), (1986.80, 65), (1986.81, 100), (1986.82, 120), (1986.83, 130),
           (1986.84, 110), (1986.85, 125), (1986.86, 115), (1986.87, 90), (1986.88, 220), (1986.89, 200), (1986.90, 230),
           (1986.92, 185), (1986.93, 210), (1986.95, 175), (1986.96, 200), (1986.98, 265), (1986.99, 240), (1987.0, 200),
           (1987.01, 215), (1987.02, 180), (1987.03, 220), (1987.06, 155), (1987.07, 95), (1987.08, 52), (1987.09, 120),
           (1987.11, 190), (1987.13, 185), (1987.15, 175), (1987.17, 165), (1987.19, 102), (1987.22, 145), (1987.24, 140),
           (1987.25, 150), (1987.26, 82), (1987.27, 145), (1987.28, 130), (1987.30, 150), (1987.32, 140), (1987.40, 140)]

no2_line = [(1987.49, 85), (1987.52, 75), (1987.55, 65), (1987.58, 90), (1987.61, 85), (1987.64, 100), (1987.66, 105),
            (1987.69, 95), (1987.72, 110), (1987.73, 125), (1987.75, 95), (1987.78, 225), (1987.80, 170), (1987.83, 160),
            (1987.85, 145), (1987.87, 205), (1987.89, 260), (1987.92, 190), (1987.95, 200), (1987.97, 220), (1987.99, 180),
            (1988.01, 220), (1988.03, 180), (1988.06, 160), (1988.07, 205), (1988.09, 170), (1988.13, 150), (1988.17, 130),
            (1988.23, 120), (1988.26, 110), (1988.28, 90), (1988.34, 70), (1988.40, 60), (1988.45, 55), (1988.51, 50),
            (1988.54, 70), (1988.57, 60), (1988.62, 55), (1988.68, 45), (1988.71, 40), (1988.74, 50), (1988.75, 55),
            (1988.77, 100), (1988.79, 110), (1988.82, 90), (1988.85, 110), (1988.88, 90), (1988.90, 100), (1988.92, 150),
            (1988.95, 160), (1988.96, 250), (1988.98, 200), (1989.02, 170), (1989.06, 150), (1989.10, 160), (1989.13, 165),
            (1989.16, 215), (1989.19, 170), (1989.22, 190), (1989.25, 150), (1989.27, 165), (1989.30, 140), (1989.33, 180),
            (1989.36, 125), (1989.39, 110), (1989.41, 100), (1989.44, 90), (1989.49, 75)]
no2_trend = [(1987.49, 110), (1987.53, 97), (1987.6, 120), (1987.66, 130), (1987.72, 135), (1987.76, 185), (1987.8, 190),
             (1987.86, 190), (1987.89, 205), (1987.95, 195), (1988.0, 185), (1988.06, 170), (1988.12, 150), (1988.18, 130),
             (1988.25, 115), (1988.3, 105), (1988.36, 90), (1988.45, 85), (1988.52, 80), (1988.54, 90), (1988.6, 85),
             (1988.7, 80), (1988.75, 80), (1988.77, 120), (1988.82, 135), (1988.88, 160), (1988.92, 170), (1988.96, 195),
             (1989.02, 190), (1989.1, 175), (1989.16, 175), (1989.2, 170), (1989.28, 160), (1989.34, 155), (1989.42, 135),
             (1989.49, 125)]
no2_obs = [(1987.63, 138), (1987.72, 168), (1987.75, 153), (1987.9, 140), (1988.17, 115), (1988.26, 108), (1988.2, 82),
           (1988.36, 125), (1988.77, 60), (1988.772, 80), (1988.78, 100), (1988.782, 130), (1988.79, 140), (1988.80, 120),
           (1988.81, 95), (1988.82, 110), (1988.83, 100), (1988.84, 90), (1988.85, 105), (1988.86, 85), (1988.87, 95),
           (1988.88, 115), (1988.89, 120), (1988.90, 100), (1988.91, 110), (1988.92, 185), (1988.93, 170), (1988.94, 160),
           (1988.942, 130), (1988.95, 110), (1988.96, 180), (1988.97, 175), (1988.98, 165), (1988.99, 185), (1989.0, 175),
           (1989.01, 160), (1989.02, 150), (1989.03, 170), (1989.04, 155), (1989.05, 140), (1989.06, 150), (1989.07, 135),
           (1989.08, 145), (1989.09, 130), (1989.10, 140), (1989.11, 125), (1989.12, 150), (1989.13, 135), (1989.14, 160),
           (1989.15, 140), (1989.16, 130), (1989.17, 120), (1989.18, 155), (1989.19, 140), (1989.20, 130), (1989.21, 150),
           (1989.22, 125), (1989.23, 140), (1989.24, 115), (1989.25, 130), (1989.26, 120), (1989.27, 145), (1989.28, 110),
           (1989.29, 125), (1989.30, 100), (1989.31, 130), (1989.32, 115), (1989.33, 105), (1989.34, 120), (1989.35, 95),
           (1989.36, 110), (1989.37, 90), (1989.38, 85), (1989.39, 70), (1989.40, 160), (1989.41, 150), (1989.42, 130),
           (1989.43, 110), (1989.44, 120), (1989.46, 95), (1989.48, 85)]

no3_line = [(1989.50, 90), (1989.53, 80), (1989.56, 90), (1989.59, 75), (1989.61, 85), (1989.64, 65), (1989.65, 60),
            (1989.66, 170), (1989.68, 145), (1989.71, 140), (1989.74, 125), (1989.76, 140), (1989.79, 195), (1989.80, 160),
            (1989.82, 150), (1989.84, 235), (1989.86, 200), (1989.88, 180), (1989.91, 155), (1989.94, 130), (1989.95, 125),
            (1989.96, 230), (1989.98, 260), (1990.00, 200), (1990.02, 170), (1990.05, 150), (1990.07, 220), (1990.09, 180),
            (1990.11, 200), (1990.13, 240), (1990.15, 200), (1990.18, 190), (1990.21, 165), (1990.23, 150), (1990.26, 135),
            (1990.29, 120), (1990.30, 140), (1990.33, 115), (1990.36, 110), (1990.37, 145), (1990.40, 110), (1990.44, 95),
            (1990.49, 80), (1990.54, 75), (1990.60, 65), (1990.62, 60), (1990.63, 50), (1990.65, 75), (1990.68, 110),
            (1990.71, 105), (1990.73, 140), (1990.76, 110), (1990.79, 90), (1990.81, 85), (1990.83, 130), (1990.84, 180),
            (1990.86, 135), (1990.88, 200), (1990.89, 265), (1990.92, 220), (1990.95, 190), (1990.97, 175), (1991.00, 200),
            (1991.03, 180), (1991.06, 150), (1991.08, 160), (1991.11, 140), (1991.14, 130), (1991.16, 115), (1991.19, 100),
            (1991.22, 95), (1991.24, 90), (1991.27, 85), (1991.30, 80), (1991.32, 95), (1991.35, 80), (1991.38, 75),
            (1991.41, 70), (1991.43, 65), (1991.46, 90), (1991.49, 80), (1991.50, 125)]
no3_trend = [(1989.5, 130), (1989.53, 128), (1989.58, 122), (1989.62, 125), (1989.65, 120), (1989.66, 180), (1989.68, 195),
             (1989.74, 195), (1989.8, 210), (1989.86, 220), (1989.92, 205), (1989.96, 200), (1990.02, 200), (1990.1, 180),
             (1990.18, 160), (1990.25, 145), (1990.3, 140), (1990.38, 130), (1990.45, 120), (1990.52, 110), (1990.6, 100),
             (1990.63, 105), (1990.66, 125), (1990.7, 150), (1990.76, 155), (1990.8, 150), (1990.84, 165), (1990.88, 205),
             (1990.93, 200), (1991.0, 190), (1991.08, 165), (1991.15, 145), (1991.22, 130), (1991.3, 120), (1991.38, 115),
             (1991.45, 110), (1991.5, 120)]
no3_obs = [(1989.63, 60), (1989.97, 270), (1989.975, 250), (1989.98, 230), (1989.99, 210), (1990.0, 195), (1990.002, 155),
           (1990.01, 180), (1990.02, 170), (1990.03, 165), (1990.04, 180), (1990.05, 160), (1990.06, 220), (1990.07, 285),
           (1990.072, 260), (1990.08, 240), (1990.09, 210), (1990.10, 240), (1990.11, 255), (1990.12, 245), (1990.13, 235),
           (1990.14, 220), (1990.15, 205), (1990.16, 215), (1990.17, 190), (1990.18, 200), (1990.19, 185), (1990.20, 165),
           (1990.21, 175), (1990.22, 150), (1990.23, 145), (1990.24, 160), (1990.25, 135), (1990.26, 120), (1990.27, 140),
           (1990.28, 130), (1990.29, 175), (1990.30, 150), (1990.31, 125), (1990.32, 110), (1990.33, 120), (1990.34, 90),
           (1990.35, 140), (1990.36, 200), (1990.362, 205), (1990.365, 165), (1990.38, 130), (1990.41, 90), (1990.72, 90),
           (1990.84, 205), (1990.85, 235), (1990.86, 240), (1990.87, 220), (1990.88, 230), (1990.89, 215), (1990.90, 200),
           (1990.91, 225), (1990.92, 235), (1990.93, 210), (1990.94, 220), (1990.95, 195), (1990.96, 205), (1990.97, 225),
           (1990.98, 185), (1991.0, 200), (1991.01, 175), (1991.02, 165), (1991.03, 145), (1991.04, 135), (1991.05, 150),
           (1991.06, 130), (1991.07, 160), (1991.08, 170), (1991.09, 155), (1991.10, 140), (1991.11, 160), (1991.13, 115),
           (1991.14, 140), (1991.15, 130), (1991.16, 150), (1991.17, 100), (1991.172, 85), (1991.18, 70), (1991.19, 125),
           (1991.21, 115), (1991.23, 125), (1991.25, 110), (1991.27, 110), (1991.29, 120), (1991.31, 110), (1991.33, 105),
           (1991.35, 100), (1991.38, 110), (1991.40, 100), (1991.42, 105), (1991.49, 135)]

no4_line = [(1991.50, 100), (1991.53, 90), (1991.59, 75), (1991.64, 65), (1991.68, 55), (1991.72, 45), (1991.735, 40),
            (1991.745, 110), (1991.76, 115), (1991.78, 105), (1991.80, 170), (1991.82, 140), (1991.83, 110), (1991.84, 120),
            (1991.86, 250), (1991.88, 240), (1991.89, 280), (1991.90, 230), (1991.92, 200), (1991.95, 170), (1991.96, 160),
            (1991.98, 230), (1992.01, 190), (1992.03, 235), (1992.05, 185), (1992.07, 170), (1992.10, 150), (1992.13, 130),
            (1992.15, 125), (1992.18, 135), (1992.21, 175), (1992.23, 150), (1992.26, 130), (1992.29, 145), (1992.31, 120),
            (1992.34, 135), (1992.37, 115), (1992.40, 100), (1992.44, 90), (1992.46, 100), (1992.49, 80), (1992.53, 70),
            (1992.57, 60), (1992.60, 55), (1992.62, 45), (1992.63, 90), (1992.65, 70), (1992.67, 110), (1992.69, 95),
            (1992.72, 75), (1992.75, 70), (1992.77, 95), (1992.80, 80), (1992.82, 150), (1992.84, 170), (1992.86, 240),
            (1992.88, 215), (1992.91, 200), (1992.93, 180), (1992.96, 170), (1992.99, 150), (1993.02, 140), (1993.04, 185),
            (1993.06, 145), (1993.08, 175), (1993.11, 135), (1993.14, 120), (1993.16, 110), (1993.19, 100), (1993.22, 95),
            (1993.24, 85), (1993.27, 100), (1993.30, 80), (1993.33, 75), (1993.35, 80), (1993.38, 70), (1993.41, 85),
            (1993.43, 75), (1993.46, 65), (1993.50, 70)]
no4_trend = [(1991.5, 140), (1991.58, 130), (1991.66, 115), (1991.73, 108), (1991.76, 160), (1991.8, 180), (1991.86, 185),
             (1991.9, 220), (1991.95, 210), (1992.0, 200), (1992.08, 185), (1992.15, 165), (1992.22, 150), (1992.3, 140),
             (1992.38, 125), (1992.46, 110), (1992.55, 100), (1992.62, 92), (1992.64, 115), (1992.68, 135), (1992.75, 140),
             (1992.8, 145), (1992.84, 175), (1992.88, 195), (1992.94, 185), (1993.0, 170), (1993.1, 150), (1993.2, 130),
             (1993.3, 115), (1993.38, 105), (1993.44, 100), (1993.5, 95)]
no4_obs = [(1991.53, 85), (1991.82, 80), (1991.88, 230), (1991.89, 260), (1991.90, 245), (1991.91, 225), (1991.92, 215),
           (1991.93, 200), (1991.95, 185), (1991.97, 175), (1991.99, 215), (1992.0, 200), (1992.02, 180), (1992.03, 190),
           (1992.04, 160), (1992.05, 170), (1992.06, 185), (1992.08, 175), (1992.09, 145), (1992.1, 120), (1992.11, 140),
           (1992.12, 160), (1992.13, 180), (1992.14, 165), (1992.16, 150), (1992.18, 160), (1992.19, 145), (1992.20, 120),
           (1992.22, 170), (1992.24, 160), (1992.26, 150), (1992.28, 145), (1992.30, 140), (1992.32, 155), (1992.34, 130),
           (1992.36, 125), (1992.40, 115), (1992.70, 75), (1992.78, 80), (1992.85, 190), (1992.86, 250), (1992.87, 265),
           (1992.88, 230), (1992.89, 210), (1992.9, 220), (1992.91, 200), (1992.92, 195), (1992.93, 210), (1992.94, 190),
           (1992.95, 200), (1992.96, 180), (1992.97, 195), (1992.98, 170), (1993.0, 175), (1993.01, 150), (1993.02, 160),
           (1993.03, 140), (1993.04, 155), (1993.05, 145), (1993.06, 130), (1993.07, 150), (1993.08, 160), (1993.1, 140),
           (1993.12, 135), (1993.14, 125), (1993.15, 110), (1993.16, 145), (1993.18, 130), (1993.2, 140), (1993.22, 120),
           (1993.24, 110), (1993.26, 95), (1993.28, 90), (1993.3, 110), (1993.32, 120), (1993.35, 105), (1993.39, 100),
           (1993.47, 105), (1993.48, 95)]

no5_line = [(1993.33, 60), (1993.37, 55), (1993.39, 85), (1993.40, 70), (1993.42, 100), (1993.44, 150), (1993.45, 115),
            (1993.49, 105), (1993.51, 95), (1993.54, 85), (1993.57, 75), (1993.59, 80), (1993.62, 100), (1993.64, 120),
            (1993.66, 140), (1993.68, 180), (1993.70, 160), (1993.72, 165), (1993.74, 140), (1993.77, 130), (1993.79, 115),
            (1993.82, 135), (1993.85, 125), (1993.88, 110), (1993.90, 130), (1993.92, 140), (1993.94, 165), (1993.97, 160),
            (1993.99, 150), (1994.02, 145), (1994.05, 120), (1994.08, 125), (1994.10, 105), (1994.13, 110), (1994.16, 100),
            (1994.19, 95), (1994.21, 85), (1994.24, 80), (1994.27, 90), (1994.29, 95), (1994.31, 85), (1994.33, 80),
            (1994.36, 70), (1994.39, 68), (1994.43, 60), (1994.47, 55), (1994.52, 52), (1994.58, 50), (1994.63, 45),
            (1994.68, 42), (1994.74, 38), (1994.79, 35), (1994.83, 32), (1994.85, 28), (1994.87, 45), (1994.90, 45),
            (1994.91, 70), (1994.93, 85), (1994.95, 105), (1994.97, 90), (1994.99, 85), (1995.01, 110), (1995.05, 90),
            (1995.07, 85), (1995.09, 120), (1995.10, 165), (1995.12, 140), (1995.15, 165), (1995.17, 130), (1995.19, 140),
            (1995.22, 125), (1995.25, 145), (1995.28, 120), (1995.30, 125), (1995.32, 150), (1995.33, 150)]
no5_trend = [(1993.33, 100), (1993.38, 95), (1993.44, 130), (1993.5, 125), (1993.58, 115), (1993.64, 120), (1993.7, 140),
             (1993.76, 145), (1993.85, 140), (1993.95, 130), (1994.0, 127), (1994.1, 110), (1994.2, 95), (1994.3, 85),
             (1994.4, 75), (1994.5, 65), (1994.6, 57), (1994.7, 52), (1994.8, 49), (1994.88, 48), (1994.92, 60),
             (1994.96, 100), (1995.04, 105), (1995.08, 105), (1995.12, 135), (1995.2, 135), (1995.28, 130), (1995.33, 130)]
no5_obs = [(1993.41, 60), (1993.42, 110), (1993.43, 120), (1993.53, 90), (1993.59, 90), (1993.64, 95), (1993.66, 125),
           (1993.67, 130), (1993.68, 140), (1993.69, 120), (1993.70, 155), (1993.71, 160), (1993.72, 150), (1993.73, 145),
           (1993.74, 165), (1993.75, 140), (1993.76, 155), (1993.77, 95), (1993.78, 125), (1993.79, 160), (1993.80, 150),
           (1993.82, 155), (1993.84, 145), (1993.86, 150), (1993.88, 140), (1993.9, 145), (1993.92, 150), (1993.93, 130),
           (1993.94, 155), (1993.96, 125), (1994.0, 110), (1994.02, 105), (1994.03, 120), (1994.04, 95), (1994.05, 110),
           (1994.06, 100), (1994.07, 115), (1994.08, 90), (1994.09, 105), (1994.1, 120), (1994.11, 95), (1994.12, 80),
           (1994.13, 75), (1994.14, 70), (1994.15, 55), (1994.16, 85), (1994.17, 65), (1994.18, 100), (1994.19, 80),
           (1994.2, 90), (1994.22, 105), (1994.24, 95), (1994.26, 85), (1994.28, 115), (1994.29, 95), (1994.3, 80),
           (1994.32, 75), (1994.33, 70), (1994.34, 65), (1994.35, 60), (1994.36, 55), (1994.38, 75), (1994.4, 70),
           (1994.42, 65), (1994.44, 60), (1994.46, 55), (1994.48, 65), (1994.5, 70), (1994.52, 60), (1994.61, 90),
           (1994.62, 80), (1994.64, 90), (1994.72, 92), (1994.9, 65), (1995.06, 75), (1995.17, 50), (1995.25, 150)]

no6_line = [(1996.00, 100), (1996.05, 85), (1996.09, 90), (1996.12, 105), (1996.14, 140), (1996.16, 105), (1996.21, 90),
            (1996.27, 75), (1996.33, 60), (1996.37, 55), (1996.40, 80), (1996.43, 95), (1996.47, 75), (1996.52, 85),
            (1996.56, 65), (1996.58, 70), (1996.62, 110), (1996.65, 75), (1996.67, 165), (1996.69, 110), (1996.72, 120),
            (1996.76, 100), (1996.80, 165), (1996.83, 185), (1996.86, 260), (1996.88, 220), (1996.92, 225), (1996.95, 175),
            (1996.98, 160), (1997.02, 140), (1997.06, 130), (1997.10, 115), (1997.13, 150), (1997.16, 165), (1997.19, 130),
            (1997.22, 115), (1997.26, 100), (1997.30, 110), (1997.34, 95), (1997.38, 80), (1997.42, 105), (1997.46, 95),
            (1997.50, 120), (1997.54, 95), (1997.57, 80), (1997.61, 75), (1997.65, 70), (1997.69, 75), (1997.73, 60),
            (1997.77, 65), (1997.79, 90), (1997.81, 110), (1997.85, 100), (1997.89, 95), (1997.93, 140), (1997.96, 175),
            (1997.99, 145), (1998.03, 125), (1998.07, 115), (1998.11, 130), (1998.14, 120), (1998.18, 175), (1998.21, 120),
            (1998.25, 110), (1998.29, 100), (1998.33, 95), (1998.39, 85), (1998.44, 125), (1998.47, 95), (1998.51, 85),
            (1998.56, 75), (1998.60, 70), (1998.64, 60), (1998.67, 75), (1998.70, 100), (1998.72, 160), (1998.75, 125),
            (1998.78, 135), (1998.82, 145), (1998.85, 140), (1998.88, 120), (1998.92, 105), (1998.96, 95), (1999.00, 85)]
no6_trend = [(1996.0, 122), (1996.1, 115), (1996.16, 118), (1996.25, 110), (1996.35, 103), (1996.45, 103), (1996.55, 115),
             (1996.62, 125), (1996.66, 135), (1996.68, 165), (1996.74, 170), (1996.8, 180), (1996.86, 205), (1996.92, 195),
             (1997.0, 175), (1997.08, 155), (1997.15, 140), (1997.22, 125), (1997.3, 115), (1997.36, 110), (1997.4, 115),
             (1997.44, 125), (1997.5, 120), (1997.58, 112), (1997.66, 105), (1997.74, 100), (1997.78, 105), (1997.8, 135),
             (1997.86, 138), (1997.95, 140), (1998.02, 135), (1998.1, 125), (1998.2, 115), (1998.3, 110), (1998.38, 105),
             (1998.45, 110), (1998.52, 100), (1998.6, 92), (1998.66, 90), (1998.7, 100), (1998.74, 120), (1998.82, 115),
             (1998.9, 105), (1999.0, 95)]
no6_obs = [(1996.12, 60), (1996.18, 150), (1996.25, 90), (1996.27, 70), (1996.29, 95), (1996.31, 45), (1996.33, 40),
           (1996.35, 45), (1996.37, 35), (1996.39, 45), (1996.42, 115), (1996.45, 130), (1996.47, 50), (1996.49, 30),
           (1996.53, 20), (1996.55, 12), (1996.58, 100), (1996.61, 25), (1996.62, 30), (1996.64, 195), (1996.69, 110),
           (1996.71, 70), (1996.73, 70), (1996.75, 120), (1996.80, 210), (1996.82, 220), (1996.85, 200), (1996.87, 190),
           (1996.89, 175), (1996.92, 170), (1997.03, 95), (1997.05, 105), (1997.07, 40), (1997.08, 95), (1997.10, 55),
           (1997.12, 140), (1997.15, 125), (1997.20, 110), (1997.24, 115), (1997.27, 110), (1997.30, 100), (1997.34, 85),
           (1997.36, 105), (1997.38, 120), (1997.42, 95), (1997.44, 130), (1997.46, 145), (1997.48, 135), (1997.50, 130),
           (1997.55, 95), (1997.60, 75), (1997.66, 60), (1997.70, 45), (1997.74, 65), (1997.80, 100), (1997.82, 85),
           (1997.84, 70), (1997.87, 15), (1997.90, 90), (1997.92, 100), (1997.98, 155), (1998.02, 115), (1998.05, 145),
           (1998.08, 130), (1998.11, 130), (1998.14, 125), (1998.17, 135), (1998.20, 115), (1998.24, 120), (1998.27, 110),
           (1998.30, 105)]

no7_line = [(1999.00, 90), (1999.05, 80), (1999.12, 72), (1999.19, 65), (1999.26, 58), (1999.33, 55), (1999.40, 50),
            (1999.47, 45), (1999.54, 40), (1999.58, 35), (1999.61, 45), (1999.65, 40), (1999.68, 35), (1999.73, 30),
            (1999.77, 38), (1999.82, 32), (1999.88, 45), (1999.91, 60), (1999.95, 85), (1999.96, 115), (2000.00, 90),
            (2000.03, 95), (2000.07, 80), (2000.14, 85), (2000.18, 78), (2000.25, 65), (2000.32, 58), (2000.39, 55),
            (2000.46, 48), (2000.53, 40), (2000.60, 35), (2000.67, 32), (2000.72, 40), (2000.78, 50), (2000.85, 60),
            (2000.92, 70), (2000.95, 88), (2000.99, 65), (2001.06, 62), (2001.13, 60), (2001.20, 55), (2001.27, 50),
            (2001.34, 48), (2001.41, 40), (2001.48, 32), (2001.55, 25), (2001.61, 20), (2001.66, 30), (2001.71, 40),
            (2001.77, 55), (2001.84, 70), (2001.91, 85), (2001.94, 110), (2001.99, 90), (2002.05, 80), (2002.12, 75),
            (2002.19, 65), (2002.26, 55), (2002.33, 48), (2002.40, 45), (2002.47, 38), (2002.54, 35), (2002.61, 40),
            (2002.68, 32), (2002.75, 38), (2002.81, 60), (2002.86, 95), (2002.91, 75), (2002.97, 70), (2003.00, 102),
            (2003.05, 75), (2003.11, 60), (2003.18, 50), (2003.25, 45), (2003.32, 40), (2003.37, 55), (2003.41, 65),
            (2003.44, 40), (2003.53, 35), (2003.60, 30), (2003.67, 28), (2003.74, 40), (2003.78, 60), (2003.85, 60),
            (2003.92, 55), (2003.95, 100), (2004.00, 110)]
no7_trend = [(1999.0, 82), (1999.2, 60), (1999.4, 50), (1999.55, 47), (1999.62, 55), (1999.7, 52), (1999.8, 60),
             (1999.9, 75), (2000.0, 90), (2000.1, 85), (2000.2, 75), (2000.3, 62), (2000.4, 55), (2000.5, 50), (2000.6, 48),
             (2000.7, 55), (2000.8, 65), (2000.9, 68), (2001.0, 68), (2001.1, 63), (2001.2, 55), (2001.35, 48),
             (2001.45, 44), (2001.52, 38), (2001.6, 42), (2001.7, 50), (2001.8, 65), (2001.9, 80), (2001.96, 87),
             (2002.05, 80), (2002.2, 65), (2002.3, 55), (2002.4, 50), (2002.5, 48), (2002.6, 52), (2002.7, 56),
             (2002.8, 65), (2002.9, 80), (2003.0, 75), (2003.1, 65), (2003.2, 55), (2003.3, 48), (2003.4, 44),
             (2003.5, 45), (2003.6, 42), (2003.7, 48), (2003.76, 56), (2003.85, 75), (2003.92, 82), (2004.0, 88)]
no7_obs = [(1999.03, 67), (1999.18, 53), (1999.33, 45), (1999.38, 66), (1999.47, 58), (1999.55, 52), (1999.72, 37),
           (1999.76, 30), (1999.86, 34), (1999.92, 62), (1999.95, 93), (2000.08, 107), (2000.2, 75), (2000.27, 57),
           (2000.38, 50), (2000.5, 57), (2000.6, 33), (2000.72, 57), (2000.86, 75), (2000.95, 75), (2001.02, 80),
           (2001.08, 75), (2001.18, 57), (2001.20, 62), (2001.22, 48), (2001.23, 42), (2001.24, 37), (2001.25, 34),
           (2001.26, 57), (2001.28, 62), (2001.30, 52), (2001.31, 45), (2001.32, 55), (2001.33, 60), (2001.34, 50),
           (2001.36, 48), (2001.38, 57), (2001.40, 62), (2001.42, 67), (2001.44, 55), (2001.46, 48), (2001.50, 42),
           (2001.60, 15), (2001.62, 20), (2001.64, 17), (2001.68, 35), (2001.72, 48), (2001.75, 55), (2001.78, 50),
           (2001.80, 60), (2001.82, 65), (2001.84, 80), (2001.86, 90), (2001.87, 95), (2001.88, 85), (2001.90, 75),
           (2001.91, 80), (2001.92, 100), (2001.93, 92), (2001.95, 88), (2001.96, 95), (2001.98, 80), (2002.0, 72),
           (2002.02, 85), (2002.04, 78), (2002.05, 68), (2002.07, 75), (2002.08, 62), (2002.10, 70), (2002.12, 65),
           (2002.14, 45), (2002.15, 55), (2002.17, 60), (2002.19, 42), (2002.20, 60), (2002.22, 58), (2002.24, 52),
           (2002.26, 55), (2002.28, 50), (2002.30, 45), (2002.33, 48), (2002.36, 52), (2002.40, 45), (2002.45, 50),
           (2002.50, 45), (2002.55, 40), (2002.58, 35), (2002.62, 28), (2002.65, 22), (2002.68, 43), (2002.70, 38),
           (2002.72, 25), (2002.78, 53), (2002.80, 62), (2002.82, 66), (2002.84, 78), (2002.86, 85), (2002.87, 103),
           (2002.88, 95), (2002.90, 80), (2002.92, 70), (2002.95, 60), (2002.97, 50), (2003.0, 65), (2003.02, 90),
           (2003.04, 75), (2003.06, 70), (2003.08, 60), (2003.10, 55), (2003.12, 48), (2003.22, 57), (2003.26, 62),
           (2003.28, 57), (2003.30, 62), (2003.33, 50), (2003.35, 48), (2003.38, 52), (2003.40, 80), (2003.41, 90),
           (2003.42, 95)]

no8_line = [(2007.00, 85), (2007.01, 95), (2007.03, 85), (2007.04, 105), (2007.05, 90), (2007.06, 100), (2007.08, 80),
            (2007.11, 75), (2007.14, 70), (2007.17, 90), (2007.19, 65), (2007.22, 60), (2007.24, 55), (2007.27, 50),
            (2007.30, 45), (2007.32, 37), (2007.34, 33), (2007.36, 45), (2007.37, 65), (2007.39, 55), (2007.42, 58),
            (2007.45, 50), (2007.47, 45), (2007.50, 40), (2007.53, 38), (2007.55, 35), (2007.58, 35), (2007.61, 32),
            (2007.64, 34), (2007.67, 32), (2007.70, 30), (2007.72, 28), (2007.74, 25), (2007.77, 38), (2007.79, 32),
            (2007.82, 35), (2007.85, 50), (2007.87, 70), (2007.89, 55), (2007.91, 60), (2007.92, 50), (2007.94, 72),
            (2007.96, 60), (2007.99, 50), (2008.01, 45), (2008.04, 50), (2008.06, 65), (2008.08, 50), (2008.11, 48),
            (2008.13, 45), (2008.16, 42), (2008.19, 40), (2008.22, 50), (2008.25, 45), (2008.28, 38), (2008.30, 40),
            (2008.33, 35), (2008.36, 33), (2008.39, 30), (2008.42, 28), (2008.44, 25), (2008.47, 22), (2008.50, 20),
            (2008.53, 18), (2008.59, 16), (2008.64, 15), (2008.70, 14), (2008.74, 13), (2008.76, 25), (2008.78, 28),
            (2008.81, 32), (2008.84, 28), (2008.87, 33), (2008.89, 48), (2008.91, 45), (2008.94, 42), (2008.97, 38),
            (2008.99, 32), (2009.00, 35)]
no8_trend = [(2007.0, 85), (2007.1, 80), (2007.2, 70), (2007.3, 62), (2007.35, 55), (2007.38, 58), (2007.45, 55),
             (2007.55, 48), (2007.65, 44), (2007.72, 45), (2007.8, 50), (2007.86, 55), (2007.92, 57), (2008.0, 55),
             (2008.1, 52), (2008.2, 47), (2008.3, 42), (2008.4, 38), (2008.5, 34), (2008.6, 30), (2008.7, 27),
             (2008.76, 26), (2008.8, 32), (2008.86, 40), (2008.94, 47), (2009.0, 45)]
no8_obs = [(2007.37, 56), (2007.40, 80), (2007.42, 63), (2007.44, 70), (2007.46, 62), (2007.48, 61), (2007.50, 54),
           (2007.54, 43), (2007.58, 43), (2007.60, 17), (2007.62, 35), (2007.65, 62), (2007.66, 49), (2007.70, 47),
           (2007.73, 32), (2007.75, 32), (2007.76, 62), (2007.78, 58), (2007.80, 44), (2007.82, 43), (2007.84, 36),
           (2007.86, 53), (2007.88, 66), (2007.92, 62), (2007.94, 60), (2007.95, 63), (2007.99, 37), (2008.00, 58),
           (2008.01, 60), (2008.03, 58), (2008.05, 45), (2008.09, 47), (2008.11, 37), (2008.13, 50), (2008.16, 43),
           (2008.19, 40), (2008.20, 36), (2008.22, 43), (2008.24, 35), (2008.27, 40), (2008.29, 42), (2008.31, 37),
           (2008.33, 28), (2008.35, 39), (2008.38, 45), (2008.40, 35), (2008.43, 52), (2008.49, 20), (2008.64, 14),
           (2008.81, 0.5), (2008.82, 11), (2008.85, 18), (2008.86, 14), (2008.89, 26), (2008.90, 25), (2008.92, 32),
           (2008.94, 52), (2008.96, 47), (2008.98, 45)]

cl_lines = [cl1_line, cl2_line, cl3_line, cl4_line, cl5_line, cl6_line, cl7_line, cl8_line]
cl_trends = [cl1_trend, cl2_trend, cl3_trend, cl4_trend, cl5_trend, cl6_trend, cl7_trend, cl8_trend]
cl_obs = [cl1_obs, cl2_obs, cl3_obs, cl4_obs, cl5_obs, cl6_obs, cl7_obs, cl8_obs]
no_lines = [no1_line, no2_line, no3_line, no4_line, no5_line, no6_line, no7_line, no8_line]
no_trends = [no1_trend, no2_trend, no3_trend, no4_trend, no5_trend, no6_trend, no7_trend, no8_trend]
no_obs = [no1_obs, no2_obs, no3_obs, no4_obs, no5_obs, no6_obs, no7_obs, no8_obs]

# ---------------- figure ----------------
W, H = 1260, 1750
fig = plt.figure(figsize=(W / 100, H / 100), dpi=100)
fig.patch.set_facecolor('white')

COL_X = [103, 694]
PW, PH = 559, 175
ROW_TOP0, ROW_PITCH = 80, 209
BAND = '#c6c6c6'
BLUE = '#1447e6'
RED = '#ff1010'
FRAME = '#6a6a6a'


def draw_panel(ax, xlim, ytop, line, lo, hi, trend, obs, q, gain, yticks, ylabeled, years):
    line = np.asarray(line, dtype=float)
    trend = np.asarray(trend, dtype=float)
    obs = np.asarray(obs, dtype=float)
    q = np.asarray(q, dtype=float)
    ax.fill_between(line[:, 0], lo, hi, color=BAND, lw=0, zorder=1)
    qh = q[:, 1] / 100.0 * ytop * gain
    ax.fill_between(q[:, 0], 0, qh, color='black', lw=0.6, edgecolor='black', zorder=1.5)
    ax.plot(line[:, 0], line[:, 1], color='black', lw=1.0, zorder=2)
    ax.plot(trend[:, 0], trend[:, 1], color=BLUE, lw=2.8, dashes=(3.6, 2.2), zorder=3)
    ax.plot(obs[:, 0], obs[:, 1], 'o', color=RED, ms=4.0, mew=0, zorder=4)
    ax.set_xlim(*xlim)
    ax.set_ylim(0, ytop)
    ax.set_xticks(years)
    ax.set_xticklabels([str(y) for y in years], fontsize=15)
    ax.set_yticks(yticks)
    ax.set_yticklabels([str(v) if v in ylabeled else '' for v in yticks], fontsize=15)
    for lab in ax.get_yticklabels():
        lab.set_rotation(90)
        lab.set_va('center')
    ax.tick_params(axis='both', direction='out', length=6, width=1, color='#444444')
    ax.tick_params(axis='x', pad=3)
    ax.tick_params(axis='y', pad=1)
    for s in ax.spines.values():
        s.set_color(FRAME)
        s.set_linewidth(1.1)


for r in range(8):
    top = ROW_TOP0 + r * ROW_PITCH
    for c in range(2):
        ax = fig.add_axes([COL_X[c] / W, 1 - (top + PH) / H, PW / W, PH / H])
        if c == 0:
            ln = np.asarray(cl_lines[r], dtype=float)
            lo = ln[:, 1] - cl_band_below[r]
            hi = ln[:, 1] + cl_band_above[r]
            draw_panel(ax, row_xlim[r], cl_ytop[r], cl_lines[r], lo, hi, cl_trends[r], cl_obs[r],
                       q_rows[r], q_gain_cl[r], cl_yticks[r], cl_ylabeled[r], row_years[r])
        else:
            ln = np.asarray(no_lines[r], dtype=float)
            lo = ln[:, 1] * (1 - no_band_rel[r])
            hi = ln[:, 1] * (1 + no_band_rel[r])
            draw_panel(ax, row_xlim[r], no_ytop[r], no_lines[r], lo, hi, no_trends[r], no_obs[r],
                       q_rows[r], q_gain_no[r], no_yticks[r], no_ylabeled[r], row_years[r])
    yc = 1 - (top + PH / 2) / H
    fig.text(64 / W, yc, 'Concentration (mg/l)', rotation=90, ha='center', va='center', fontsize=13.5)
    fig.text(22 / W, yc, row_numbers[r], ha='center', va='center', fontsize=42)

fig.text(320 / W, 1 - 33 / H, 'Chloride', ha='center', va='center', fontsize=40)
fig.text(932 / W, 1 - 33 / H, 'Nitrate', ha='center', va='center', fontsize=40)

fig.savefig('out.png', dpi=100, facecolor='white')
